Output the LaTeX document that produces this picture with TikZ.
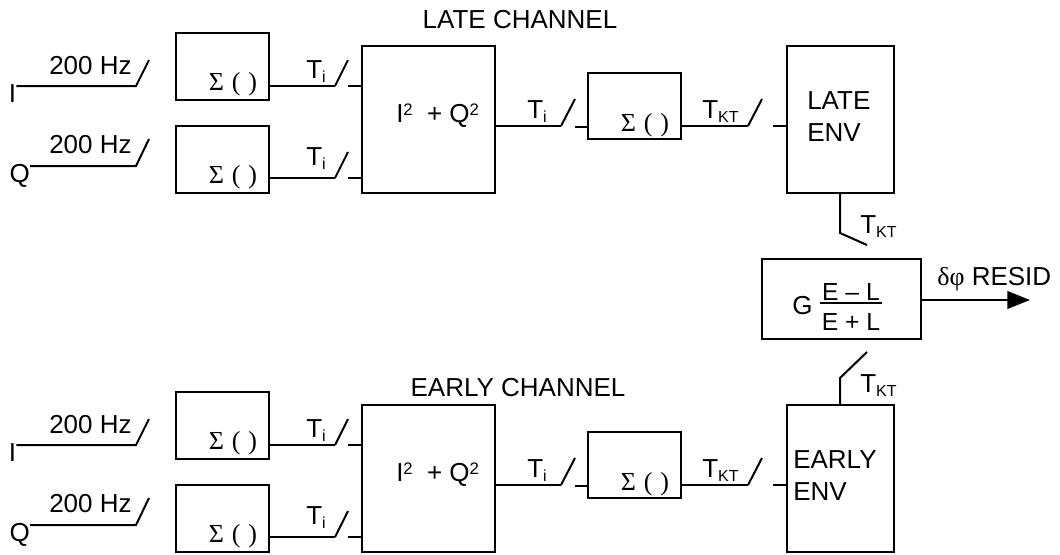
\documentclass[tikz,border=0pt]{standalone}
\usepackage{fontspec}
\setmainfont{Liberation Sans}
\newfontfamily\serf{Liberation Serif}
\usetikzlibrary{fit,arrows.meta}
\newcommand\mainsz{\fontsize{19.5}{24}\selectfont}
\newcommand\subsz{\fontsize{12}{14}\selectfont}
\newcommand\supsz{\fontsize{12.5}{14}\selectfont}
\newcommand\sigsz{\fontsize{19.5}{22}\selectfont}
\newcommand\fracsz{\fontsize{18.5}{20}\selectfont}
\newcommand\Tsub[1]{T\raisebox{-3.6pt}{\subsz #1}}
\newcommand\sig{Σ\hspace{0.3em}(\hspace{0.3em})}
% #1 prefix, #2 y shift (px), #3 env word, #4 env text x
\newcommand\chan[4]{%
\begin{scope}[name prefix=#1-, yshift=-#2*0.75pt]
  % boxes
  \node[box, fit={(176,33)(269,100)}] (s1) {};
  \node[box, fit={(176,126)(269,193)}] (s2) {};
  \node[box, fit={(362,46)(495,193)}] (sq) {};
  \node[box, fit={(588,73)(681,139)}] (s3) {};
  \node[box, fit={(787,46)(894,193)}] (env) {};
  % texts
  \node[anchor=base] (i) at (12.5,102) {I};
  \node[anchor=base east] (q) at (30,182) {Q};
  \node[lbl] (fi) at (49,74) {200 Hz};
  \node[lbl] (fq) at (49,153) {200 Hz};
  \node[anchor=base, font=\serf\sigsz] (t1) at (233,90) {\sig};
  \node[anchor=base, font=\serf\sigsz] (t2) at (233,183) {\sig};
  \node[anchor=base, font=\serf\sigsz] (t3) at (645,131) {\sig};
  \node[lbl] (ti1) at (306,78) {\Tsub{i}};
  \node[lbl] (ti2) at (306,165) {\Tsub{i}};
  \node[lbl] (ti3) at (527,118) {\Tsub{i}};
  \node[lbl] (tk) at (702,118) {\Tsub{KT}};
  \node[lbl] (sqt) at (396,122) {I\raisebox{5pt}{\supsz 2}\hspace{0.55em}+ Q\raisebox{5pt}{\supsz 2}};
  \node[lbl] (envt) at (#4,109) {#3};
  \node[lbl] (envt2) at (#4,141) {ENV};
  % inputs
  \coordinate (a1) at (136,86);
  \coordinate (a2) at (136,166);
  \draw[wire] (i.east |- a1) -- (a1) -- ++(13,-26);
  \draw[wire] (q.east |- a2) -- (a2) -- ++(13,-27);
  % sigma outputs
  \coordinate (b1) at (335,86);
  \coordinate (b2) at (335,178);
  \coordinate (c1) at (348,86);
  \coordinate (c2) at (348,178);
  \draw[bus] (s1.east |- b1) -- (b1);
  \draw[bus] (s2.east |- b2) -- (b2);
  \draw[wire] (b1) -- ++(13,-26);
  \draw[wire] (b2) -- ++(13,-26);
  \draw[wire] (c1) -- (sq.west |- c1);
  \draw[wire] (c2) -- (sq.west |- c2);
  % I2+Q2 output
  \coordinate (d1) at (561,126);
  \coordinate (e1) at (575,127);
  \draw[bus] (sq.east |- d1) -- (d1);
  \draw[wire] (d1) -- ++(14,-27);
  \draw[wire] (e1) -- (s3.west |- e1);
  % sigma 3 output
  \coordinate (f1) at (748,126);
  \coordinate (g1) at (773,126);
  \draw[bus] (s3.east |- f1) -- (f1);
  \draw[wire] (f1) -- ++(14,-27);
  \draw[wire] (g1) -- (env.west |- g1);
\end{scope}}
\begin{document}
\begin{tikzpicture}[x=0.75pt, y=-0.75pt,
  every node/.style={font=\mainsz, inner sep=0pt},
  box/.style={draw, line width=1.5pt, inner sep=0pt},
  wire/.style={line width=1.5pt},
  bus/.style={line width=2pt},
  lbl/.style={anchor=base west}]
\fill[white] (0,0) rectangle (1060,554);
\useasboundingbox (0,0) rectangle (1060,554);

\chan{L}{0}{LATE}{807}
\chan{E}{359}{EARLY}{793}

\node[anchor=base] (lt) at (520,28) {LATE CHANNEL};
\node[anchor=base] (et) at (518,396) {EARLY CHANNEL};

% combiner
\node[box, fit={(762,259)(921,339)}] (g) {};
\node[lbl] (gl) at (792,314) {G};
\node[anchor=base, font=\fracsz] (gn) at (851,300) {E – L};
\node[anchor=base, font=\fracsz] (gd) at (851,330) {E + L};
\draw[wire] (820,303) -- (882,303);

\coordinate (h1) at (840,233);
\coordinate (h2) at (867,245);
\coordinate (h3) at (867,352);
\coordinate (h4) at (840,378);
\draw[wire] (L-env.south -| h1) -- (h1) -- (h2);
\draw[wire] (h3) -- (h4) -- (E-env.north -| h4);
\node[lbl] (tk3) at (860,233) {\Tsub{KT}};
\node[lbl] (tk4) at (860,392) {\Tsub{KT}};

\coordinate (out) at (1030,300);
\draw[bus, -{Triangle[length=17pt,width=13pt]}] (g.east |- out) -- (out);
\node[lbl] (res) at (937,285) {{\serf δφ} RESID};
\end{tikzpicture}
\end{document}
